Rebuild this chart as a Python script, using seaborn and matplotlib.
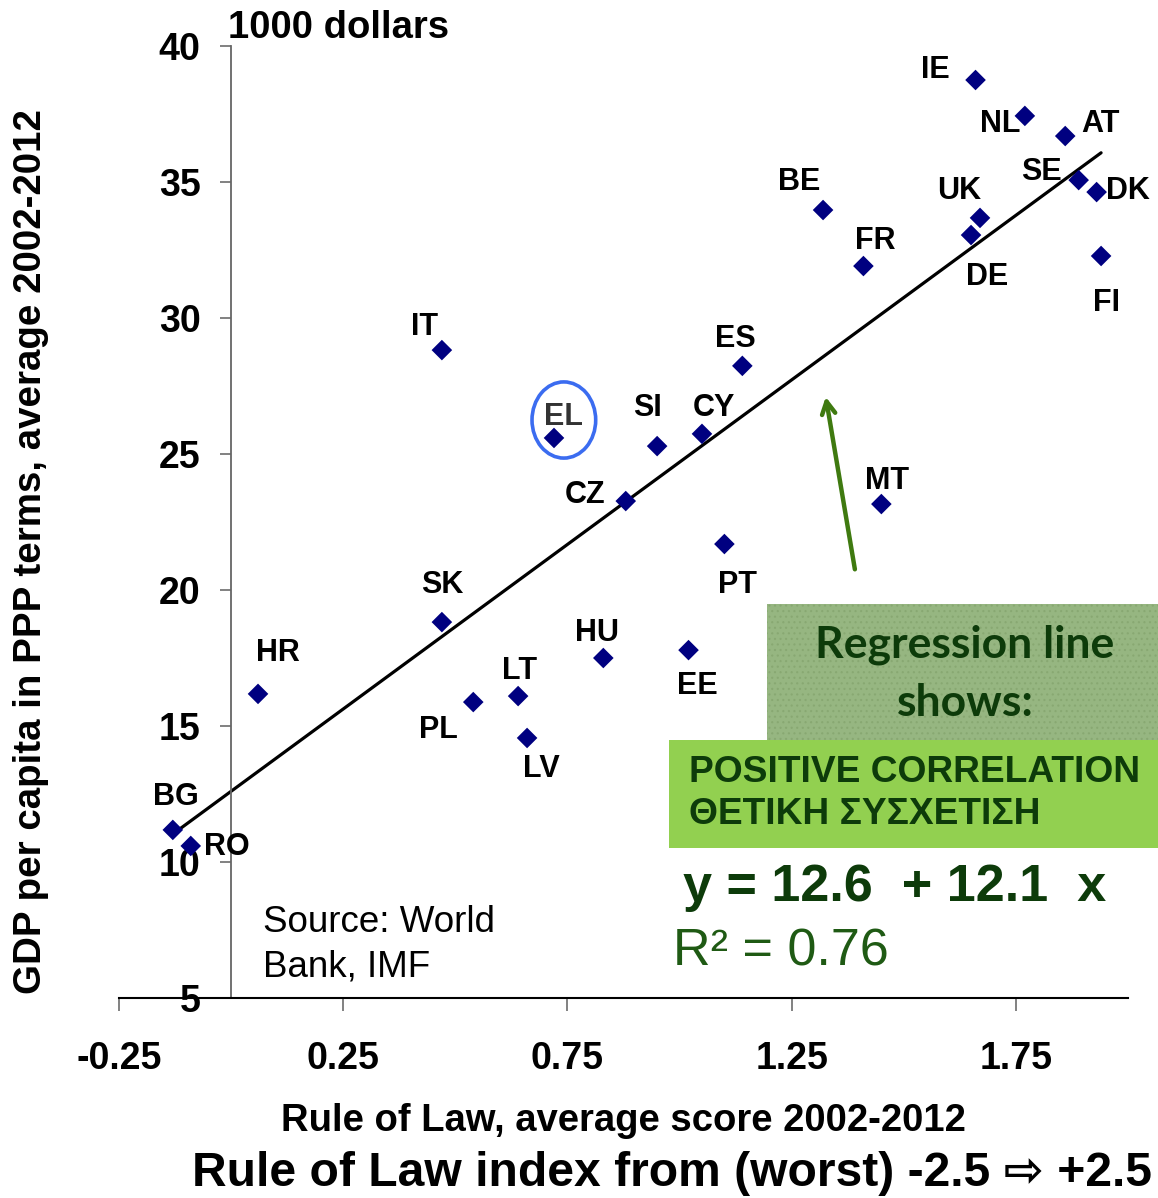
import numpy as np
import pandas as pd
import seaborn as sns
import matplotlib
matplotlib.use("Agg")
import matplotlib.pyplot as plt
from matplotlib.patches import Ellipse, Rectangle

# ---------------- data ----------------
countries = ['IE', 'NL', 'AT', 'SE', 'DK', 'FI', 'UK', 'DE', 'BE', 'FR', 'ES', 'IT', 'EL', 'SI',
             'CY', 'CZ', 'MT', 'PT', 'SK', 'HU', 'EE', 'HR', 'PL', 'LT', 'LV', 'BG', 'RO']
rule_of_law = [1.66, 1.77, 1.86, 1.89, 1.93, 1.94, 1.67, 1.65, 1.32, 1.41, 1.14, 0.47, 0.72, 0.95,
               1.05, 0.88, 1.45, 1.10, 0.47, 0.83, 1.02, 0.06, 0.54, 0.64, 0.66, -0.13, -0.09]
gdp_ppp = [38.75, 37.43, 36.69, 35.07, 34.63, 32.28, 33.68, 33.05, 33.97, 31.91, 28.24, 28.82, 25.59, 25.29,
           25.74, 23.27, 23.16, 21.69, 18.82, 17.50, 17.79, 16.18, 15.88, 16.10, 14.56, 11.18, 10.59]
# label offsets (pixels) relative to each point
label_dx = [-40, -25, 35, -37, 31, 5, -21, 16, -24, 12, -7, -17, 10, -10,
            12, -41, 6, 13, 0, -6, 9, 20, -35, 1, 14, 3, 36]
label_dy = [10, -8, 12, 8, 1, -47, 27, -42, 28, 25, 27, 23, 21, 38,
            26, 6, 23, -41, 37, 25, -36, 41, -28, 25, -31, 33, -1]

reg_intercept = 12.6
reg_slope = 12.1
r_squared = 0.76

x_ticks = [-0.25, 0.25, 0.75, 1.25, 1.75]
x_tick_labels = ['-0.25', '0.25', '0.75', '1.25', '1.75']
y_ticks = [5, 10, 15, 20, 25, 30, 35, 40]

df = pd.DataFrame({'country': countries, 'rol': rule_of_law, 'gdp': gdp_ppp})

# ---------------- figure ----------------
W, H = 1158, 1198
sns.set_theme(style="white")
plt.rcParams['font.family'] = ['Liberation Sans', 'DejaVu Sans']
plt.rcParams['text.color'] = 'black'
plt.rcParams['xtick.labelcolor'] = 'black'
plt.rcParams['ytick.labelcolor'] = 'black'
plt.rcParams['hatch.linewidth'] = 0.8

fig = plt.figure(figsize=(W / 100, H / 100), dpi=100)
fx = lambda px: px / W
fy = lambda py: 1 - py / H

ax = fig.add_axes([fx(119), fy(998), (1128 - 119) / W, (998 - 46) / H])
ax.set_xlim(-0.25, 2.0)
ax.set_ylim(5, 40)

# regression line
xr = np.array([min(rule_of_law), max(rule_of_law)])
line_df = pd.DataFrame({'x': xr, 'y': reg_intercept + reg_slope * xr})
sns.lineplot(data=line_df, x='x', y='y', color='black', linewidth=2.3, ax=ax, zorder=2)

# points
sns.scatterplot(data=df, x='rol', y='gdp', marker='D', s=110, color='#000080',
                edgecolor='none', linewidth=0, ax=ax, zorder=3)

# labels
for c, x, y, dx, dy in zip(countries, rule_of_law, gdp_ppp, label_dx, label_dy):
    ax.annotate(c, (x, y), xytext=(dx, dy), textcoords='offset pixels',
                ha='center', va='center', fontsize=22, fontweight='bold',
                color='#333333' if c == 'EL' else 'black', zorder=4)

# ellipse around EL
iel = countries.index('EL')
ax.add_patch(Ellipse((rule_of_law[iel] + 0.022, gdp_ppp[iel] + 0.66), 0.142, 2.8,
                     fill=False, edgecolor='#3b6cf0', linewidth=2.6, zorder=5))

# arrow
ax.annotate('', xy=(1.325, 27.2), xytext=(1.392, 20.66),
            arrowprops=dict(arrowstyle='->,head_length=0.75,head_width=0.4',
                            color='#3f7a10', linewidth=3.2), zorder=5)

# axes styling
for s in ['top', 'right']:
    ax.spines[s].set_visible(False)
ax.spines['left'].set_position(('data', 0))
ax.spines['left'].set_color('#666666')
ax.spines['left'].set_linewidth(1.3)
ax.spines['bottom'].set_color('black')
ax.spines['bottom'].set_linewidth(1.5)
ax.set_xticks(x_ticks)
ax.set_xticklabels(x_tick_labels)
ax.set_yticks(y_ticks)
ax.set_yticklabels([str(v) for v in y_ticks])
ax.tick_params(axis='x', direction='out', length=9, width=1.3, color='#777777', pad=22,
               labelsize=27, bottom=True, labelcolor='black')
ax.tick_params(axis='y', direction='out', length=8, width=1.3, color='#777777', pad=14,
               labelsize=27, left=True, labelcolor='black')
for lab in ax.get_xticklabels() + ax.get_yticklabels():
    lab.set_fontweight('bold')
ax.set_xlabel('')
ax.set_ylabel('')

# axis titles
fig.text(fx(31), fy(552), 'GDP per capita in PPP terms, average 2002-2012', rotation=90,
         ha='center', va='center', fontsize=27.7, fontweight='bold', color='black')
fig.text(fx(228), fy(28), '1000 dollars', ha='left', va='center', fontsize=27.5, fontweight='bold',
         color='black')
fig.text(fx(623), fy(1121), 'Rule of Law, average score 2002-2012', ha='center', va='center',
         fontsize=27.5, fontweight='bold', color='black')
fig.text(fx(672), fy(1174), 'Rule of Law index from (worst) -2.5 \u21e8 +2.5', ha='center', va='center',
         fontsize=34.6, fontweight='bold', color='black')

# source
fig.text(fx(263), fy(922), 'Source: World', ha='left', va='center', fontsize=26.5, color='black')
fig.text(fx(263), fy(967), 'Bank, IMF', ha='left', va='center', fontsize=26.5, color='black')

# green boxes
fig.patches.append(Rectangle((fx(767), fy(740)), (1158 - 767) / W, (740 - 604) / H,
                             transform=fig.transFigure, facecolor='#96b681', edgecolor='#88a872',
                             hatch='...', linewidth=0, zorder=1))
fig.patches.append(Rectangle((fx(669), fy(848)), (1158 - 669) / W, (848 - 740) / H,
                             transform=fig.transFigure, facecolor='#92d050', edgecolor='none',
                             linewidth=0, zorder=1))
box_txt = '#0d3b0a'
fig.text(fx(965), fy(645), 'Regression line', ha='center', va='center', fontsize=32,
         fontweight='bold', color=box_txt, family=['Lato', 'DejaVu Sans'])
fig.text(fx(965), fy(703), 'shows:', ha='center', va='center', fontsize=32,
         fontweight='bold', color=box_txt, family=['Lato', 'DejaVu Sans'])
fig.text(fx(689), fy(772), 'POSITIVE CORRELATION', ha='left', va='center', fontsize=26.7,
         fontweight='bold', color=box_txt)
fig.text(fx(689), fy(815), '\u0398\u0395\u03a4\u0399\u039a\u0397 \u03a3\u03a5\u03a3\u03a7\u0395\u03a4\u0399\u03a3\u0397',
         ha='left', va='center', fontsize=26.7, fontweight='bold', color=box_txt)

# equation
fig.text(fx(683), fy(888), f'y = {reg_intercept}  + {reg_slope}  x', ha='left', va='center',
         fontsize=37.5, fontweight='bold', color='#0d3b0a')
fig.text(fx(673), fy(952), f'R\u00b2 = {r_squared}', ha='left', va='center',
         fontsize=37.5, color='#1f5a14')

fig.savefig('out.png', dpi=100)
